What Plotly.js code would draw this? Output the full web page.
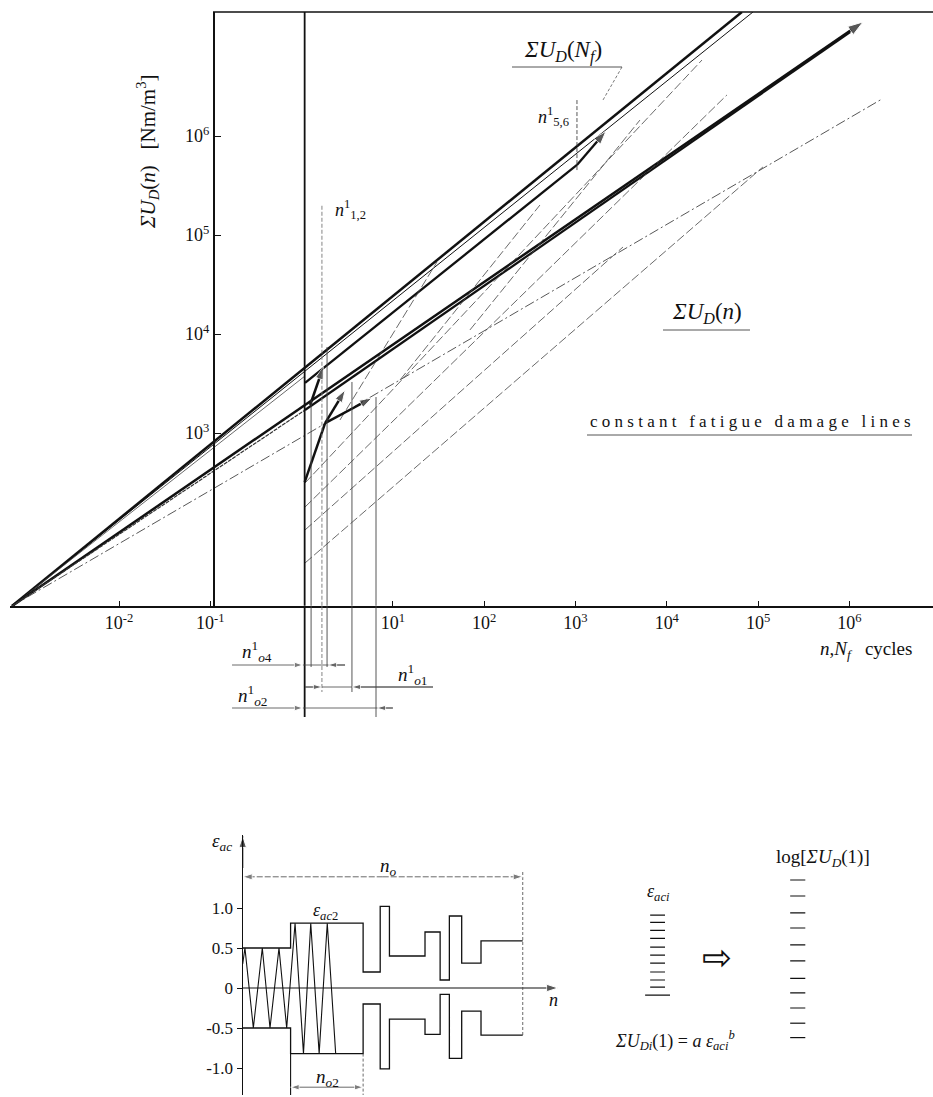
<!DOCTYPE html>
<html><head><meta charset="utf-8">
<script src="https://cdn.plot.ly/plotly-3.0.1.min.js"></script>
<style>html,body{margin:0;padding:0;background:#fff}#chart{width:933px;height:1097px}</style>
</head><body><div id="chart"></div>
<script>
// ===== main log-log chart: n (cycles) vs ΣU_D (Nm/m^3) =====
const xTickVals = [0.01, 0.1, 10, 100, 1000, 1e4, 1e5, 1e6];
const xTickText = ['10<sup>-2</sup>','10<sup>-1</sup>','10<sup>1</sup>','10<sup>2</sup>','10<sup>3</sup>','10<sup>4</sup>','10<sup>5</sup>','10<sup>6</sup>'];
const yTickVals = [1e3, 1e4, 1e5, 1e6];
const yTickText = ['10<sup>3</sup>','10<sup>4</sup>','10<sup>5</sup>','10<sup>6</sup>'];

// lines from the common origin
const lineA_n  = [6.73e-4, 6.65e4];   const lineA_U  = [17.9, 1.79e7];   // ΣU_D(N_f) thick
const lineA2_n = [6.73e-4, 8.79e4];   const lineA2_U = [17.9, 1.79e7];
const lineA3_n = [6.73e-4, 1.09];     const lineA3_U = [17.9, 3770];
const lineC_n  = [6.73e-4, 1.41e6];   const lineC_U  = [17.9, 1.42e7];   // lower thick, arrow
const lineD_n  = [6.73e-4, 2.28e6];   const lineD_U  = [17.9, 2.37e6];   // dash-dot ΣU_D(n)
const lineC2a_n = [6.73e-4, 1.09];    const lineC2a_U = [17.9, 1710];
const lineC2_n = [1.09, 1.02e6];      const lineC2_U = [1710, 1.12e7];
const lineB_n  = [1.09, 1038];        const lineB_U  = [3210, 5.11e5];
const arrowB_n = [1038, 2158];        const arrowB_U = [5.11e5, 1.12e6];

// thin dashed lines (block ΣU_D(n) / constant fatigue damage lines)
const thinStart_n = [1.09, 1.09, 1.09, 1.09, 2.63, 11.97, 69.8];
const thinStart_U = [48.7, 105, 179, 313, 1355, 3435, 1.1e4];
const thinEnd_n   = [1.13e5, 3313, 4.56e4, 2.43e4, 30.4, 408, 5082];
const thinEnd_U   = [4.87e5, 7.57e4, 2.6e6, 5.86e6, 5.35e4, 2.01e5, 1.45e6];

// thick arrows near n = 1 … 10
const arrows_n0 = [1.24, 1.81, 1.81];  const arrows_U0 = [1920, 1260, 1260];
const arrows_n1 = [1.73, 3.0, 5.9];    const arrows_U1 = [4650, 2720, 2260];
const stepSeg_n = [1.08, 1.81];        const stepSeg_U = [320, 1260];

// vertical marker lines (n values) with tops (U) and depth below the axis
const vert_n   = [1.08, 1.27, 1.67, 1.90, 3.56, 6.53];
const vert_top = [1.79e7, 2160, 2.01e5, 7400, 3280, 2310];
const vert_bot = [-111, -61, -86, -61, -86, -111];
const n56 = 1038, n56_U = [2.31e6, 4.34e5];

// dimension rows below the axis
const dim1_n = [0.173, 1.035, 2.99, 1.95];
const dim2_n = [1.09, 27.5, 1.67, 3.56];
const dim3_n = [0.173, 10.0, 1.035, 6.70];
const dimRowY = [-59, -81, -102];

// ===== inset: strain amplitude history =====
const blockN   = [0, 17.1, 43.0, 49.1, 52.4, 65.1, 70.5, 73.8, 78.2, 85.1, 100];
const upperEps = [0.5, 0.81, 0.2, 1.02, 0.4, 0.7, 0.1, 0.9, 0.31, 0.59, 0.59];
const lowerEps = [-0.5, -0.82, -0.2, -1.01, -0.39, -0.58, -0.08, -0.88, -0.29, -0.59, -0.59];
const triN   = [0, 0.8, 3.8, 7.0, 9.75, 12.96, 15.7, 18.7, 21.7, 24.3, 27.3, 30.2, 33.2];
const triEps = [0.3, 0.5, -0.5, 0.5, -0.5, 0.5, -0.5, 0.81, -0.82, 0.81, -0.82, 0.81, -0.82];
const epsLevels = [0.91, 0.82, 0.72, 0.62, 0.51, 0.41, 0.31, 0.20, 0.10, 0.01];
const logLevels = [1.35, 1.15, 0.94, 0.75, 0.54, 0.34, 0.12, -0.06, -0.25, -0.44, -0.62];

const BLK = '#111', THIN = '#444';
const traces = [];
function ln(x, y, w, color, dash, xa, ya, extra) {
  const t = {x, y, type:'scatter', mode:'lines', xaxis:xa||'x', yaxis:ya||'y',
    line:{width:w, color:color||BLK, dash:dash||'solid'}, hoverinfo:'skip', showlegend:false};
  return Object.assign(t, extra||{});
}
function arr(x, y, w, size, xa, ya, dash, color) {
  return {x, y, type:'scatter', mode:'lines+markers', xaxis:xa||'x', yaxis:ya||'y', cliponaxis:false,
    line:{width:w, color:color||BLK, dash:dash||'solid'},
    marker:{symbol:'arrow', angleref:'previous', size:[0, size], color:color||BLK},
    hoverinfo:'skip', showlegend:false};
}
// main lines
traces.push(ln(lineA_n, lineA_U, 2.5));
traces.push(ln(lineA2_n, lineA2_U, 1));
traces.push(ln(lineA3_n, lineA3_U, 0.8, THIN));
traces.push(arr(lineC_n, lineC_U, 2.5, 16));
traces.push(ln(lineD_n, lineD_U, 0.9, THIN, '10px,3px,2px,3px'));
traces.push(ln(lineC2a_n, lineC2a_U, 1.2, '#333', '4px,1px'));
traces.push(ln(lineC2_n, lineC2_U, 2.2));
traces.push(ln(lineB_n, lineB_U, 2.3));
traces.push(arr(arrowB_n, arrowB_U, 2.3, 14));
for (let i = 0; i < thinStart_n.length; i++)
  traces.push(ln([thinStart_n[i], thinEnd_n[i]], [thinStart_U[i], thinEnd_U[i]], 0.8, THIN, '9px,3px'));
for (let i = 0; i < arrows_n0.length; i++)
  traces.push(arr([arrows_n0[i], arrows_n1[i]], [arrows_U0[i], arrows_U1[i]], 2.5, 13));
traces.push(ln(stepSeg_n, stepSeg_U, 2.5));
// verticals: main part + part below axis
for (let i = 0; i < vert_n.length; i++) {
  const w = i === 0 ? 1.8 : 0.9;
  const d = i === 2 ? '4px,2px' : 'solid';
  const c = i === 2 ? '#777' : (i === 0 ? BLK : THIN);
  traces.push(ln([vert_n[i], vert_n[i]], [18, vert_top[i]], w, c, d));
  traces.push(ln([vert_n[i], vert_n[i]], [0, vert_bot[i]], w, c, d, 'x2', 'y2'));
}
traces.push(ln([n56, n56], n56_U, 0.9, THIN, '4px,2px'));
// dimension rows
traces.push(arr([dim1_n[0], dim1_n[1]], [dimRowY[0], dimRowY[0]], 0.8, 9, 'x2', 'y2', 'solid', THIN));
traces.push(ln([dim1_n[1], dim1_n[2]], [dimRowY[0], dimRowY[0]], 0.8, THIN, 'solid', 'x2', 'y2'));
traces.push(arr([dim1_n[2], dim1_n[3]], [dimRowY[0], dimRowY[0]], 0.8, 9, 'x2', 'y2', 'solid', THIN));
traces.push(ln([dim2_n[0], dim2_n[1]], [dimRowY[1], dimRowY[1]], 0.8, THIN, 'solid', 'x2', 'y2'));
traces.push(arr([dim2_n[0], dim2_n[2]], [dimRowY[1], dimRowY[1]], 0.8, 9, 'x2', 'y2', 'solid', THIN));
traces.push(arr([dim2_n[1], dim2_n[3]], [dimRowY[1], dimRowY[1]], 0.8, 9, 'x2', 'y2', 'solid', THIN));
traces.push(arr([dim3_n[0], dim3_n[2]], [dimRowY[2], dimRowY[2]], 0.8, 9, 'x2', 'y2', 'solid', THIN));
traces.push(ln([dim3_n[2], dim3_n[1]], [dimRowY[2], dimRowY[2]], 0.8, THIN, 'solid', 'x2', 'y2'));
traces.push(arr([dim3_n[1], dim3_n[3]], [dimRowY[2], dimRowY[2]], 0.8, 9, 'x2', 'y2', 'solid', THIN));

// inset traces
traces.push(ln(blockN, upperEps, 1.3, BLK, 'solid', 'x3', 'y3', {line:{width:1.3,color:BLK,shape:'hv'}}));
traces.push(ln(blockN, lowerEps, 1.3, BLK, 'solid', 'x3', 'y3', {line:{width:1.3,color:BLK,shape:'hv'}}));
traces.push(ln(triN, triEps, 1.1, BLK, 'solid', 'x3', 'y3'));
traces.push(arr([0, 112.6], [0, 0], 1.2, 12, 'x3', 'y3'));
traces.push(arr([0, 0], [1.5, 1.9], 1.2, 12, 'x3', 'y3'));
traces.push(ln([100, 100], [1.45, -0.59], 0.8, THIN, '3px,2px', 'x3', 'y3'));
traces.push(arr([50, 100], [1.39, 1.39], 0.8, 10, 'x3', 'y3', '6px,2px', THIN));
traces.push(arr([50, 0], [1.39, 1.39], 0.8, 10, 'x3', 'y3', '6px,2px', THIN));
traces.push(ln([17.1, 17.1], [-0.82, -1.34], 1.1, BLK, 'solid', 'x3', 'y3'));
traces.push(ln([43, 43], [-0.82, -1.34], 0.8, THIN, '3px,2px', 'x3', 'y3'));
traces.push(arr([30, 17.1], [-1.24, -1.24], 0.8, 9, 'x3', 'y3', 'solid', THIN));
traces.push(arr([30, 43], [-1.24, -1.24], 0.8, 9, 'x3', 'y3', 'solid', THIN));
// ε_aci and log ΣU_D(1) tick columns
(function(){
  const xs = [], ys = [];
  epsLevels.forEach(v => { xs.push(145.5, 150.8, null); ys.push(v, v, null); });
  xs.push(143.7, 152.6); ys.push(-0.09, -0.09);
  traces.push(ln(xs, ys, 1.2, BLK, 'solid', 'x3', 'y3'));
  const xs2 = [], ys2 = [];
  logLevels.forEach(v => { xs2.push(195.5, 200.9, null); ys2.push(v, v, null); });
  traces.push(ln(xs2, ys2, 1.2, BLK, 'solid', 'x3', 'y3'));
})();

const SERIF = 'Liberation Serif';
const px = v => v / 933, py = v => (1097 - v) / 1097;
function txt(x, y, text, size, extra) {
  return Object.assign({xref:'paper', yref:'paper', x:px(x), y:py(y), text, showarrow:false,
    font:{family:SERIF, size:size||16, color:BLK}, xanchor:'center', yanchor:'middle'}, extra||{});
}
const annotations = [
  txt(148, 152, '<i>ΣU<sub>D</sub></i>(<i>n</i>)   [Nm/m<sup>3</sup>]', 21, {textangle:-90}),
  txt(350, 210, '<i>n</i><sup>1</sup><sub>1,2</sub>', 18),
  txt(563, 52, '<i>ΣU<sub>D</sub></i>(<i>N<sub>f</sub></i>)', 23),
  txt(553, 117, '<i>n</i><sup>1</sup><sub>5,6</sub>', 18),
  txt(707, 313, '<i>ΣU<sub>D</sub></i>(<i>n</i>)', 23),
  txt(750, 422, 'c o n s t a n t   f a t i g u e   d a m a g e   l i n e s', 17),
  txt(866, 650, '<i>n</i>,<i>N<sub>f</sub></i>   cycles', 19),
  txt(257, 651, '<i>n</i><sup>1</sup><sub><i>o</i>4</sub>', 19),
  txt(252, 695, '<i>n</i><sup>1</sup><sub><i>o</i>2</sub>', 19),
  txt(412, 675, '<i>n</i><sup>1</sup><sub><i>o</i>1</sub>', 19),
  // inset
  txt(222, 842, '<i>ε<sub>ac</sub></i>', 19),
  txt(325, 911, '<i>ε<sub>ac</sub></i><sub>2</sub>', 18),
  txt(388, 867, '<i>n<sub>o</sub></i>', 19),
  txt(327, 1078, '<i>n<sub>o</sub></i><sub>2</sub>', 19),
  txt(553, 1000, '<i>n</i>', 18),
  txt(658, 892, '<i>ε<sub>aci</sub></i>', 18),
  txt(823, 858, 'log[<i>ΣU<sub>D</sub></i>(1)]', 19),
  txt(675, 1040, '<i>ΣU<sub>Di</sub></i>(1) = <i>a ε<sub>aci</sub><sup>b</sup></i>', 18),
  txt(717, 957, '⇨', 36, {font:{family:'DejaVu Sans', size:36, color:BLK}})
];
const shapes = [
  {type:'line', xref:'paper', yref:'paper', x0:px(213), x1:px(933), y0:py(12), y1:py(12), line:{width:1.5, color:BLK}},
  {type:'line', xref:'paper', yref:'paper', x0:px(512), x1:px(622), y0:py(67), y1:py(67), line:{width:1, color:'#555'}},
  {type:'line', xref:'paper', yref:'paper', x0:px(622), x1:px(603), y0:py(67), y1:py(100), line:{width:0.8, color:'#555', dash:'3px,2px'}},
  {type:'line', xref:'paper', yref:'paper', x0:px(663), x1:px(750), y0:py(330), y1:py(330), line:{width:1, color:'#555'}},
  {type:'line', xref:'paper', yref:'paper', x0:px(587), x1:px(912), y0:py(435), y1:py(435), line:{width:1, color:'#555'}}
];
const tickFont = {family:SERIF, size:18, color:BLK};
const layout = {
  width:933, height:1097, margin:{l:0, r:0, t:0, b:0},
  font:{family:SERIF, color:BLK},
  paper_bgcolor:'#fff', plot_bgcolor:'rgba(0,0,0,0)', showlegend:false,
  xaxis:{type:'log', range:[-3.194, 6.916], domain:[10/933, 1], anchor:'y',
    tickvals:xTickVals, ticktext:xTickText, ticks:'inside', ticklen:5, tickcolor:BLK,
    showline:true, linecolor:BLK, linewidth:1.5, showgrid:false, zeroline:false, tickfont:tickFont},
  yaxis:{type:'log', range:[1.253, 7.253], domain:[py(606), py(12)], anchor:'free', position:213/933,
    tickvals:yTickVals, ticktext:yTickText, ticks:'inside', ticklen:6, tickcolor:BLK,
    showline:true, linecolor:BLK, linewidth:1.5, showgrid:false, zeroline:false, tickfont:tickFont},
  xaxis2:{type:'log', range:[-3.194, 6.916], domain:[10/933, 1], anchor:'y2', visible:false},
  yaxis2:{range:[-114, 0], domain:[py(720), py(606)], anchor:'x2', visible:false},
  xaxis3:{range:[0, 246.5], domain:[242.7/933, 1], anchor:'y3', visible:false},
  yaxis3:{range:[-1.3375, 1.9125], domain:[py(1095), py(835)], anchor:'x3',
    tickvals:[-1, -0.5, 0, 0.5, 1], ticktext:['-1.0','-0.5','0','0.5','1.0'],
    ticks:'outside', ticklen:5, tickcolor:BLK, showline:true, linecolor:BLK, linewidth:1.2,
    showgrid:false, zeroline:false, tickfont:{family:SERIF, size:17, color:BLK}},
  annotations, shapes
};
Plotly.newPlot('chart', traces, layout, {displayModeBar:false, staticPlot:true});
</script></body></html>
